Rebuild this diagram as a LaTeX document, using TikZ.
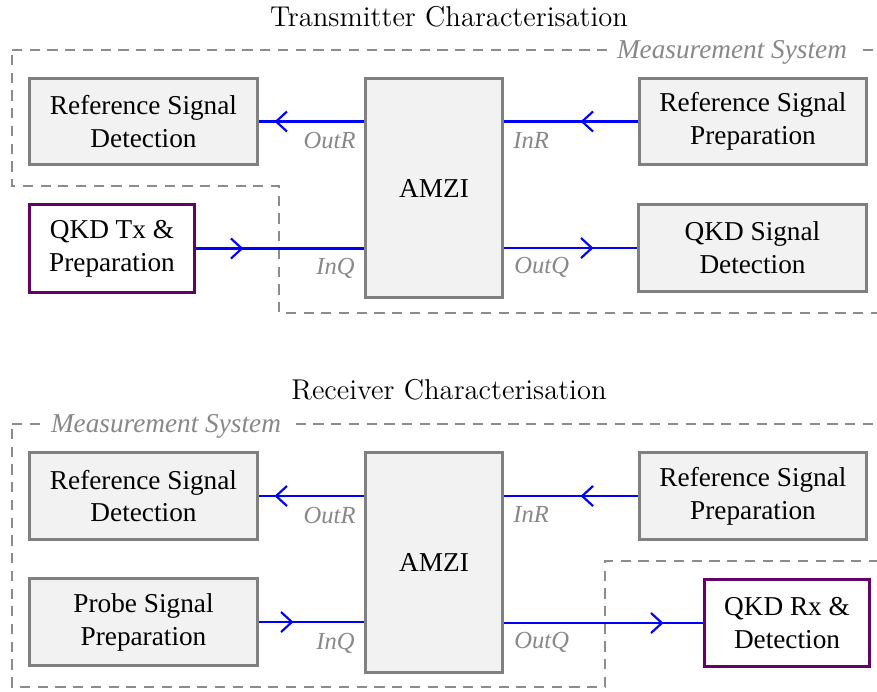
\documentclass[tikz,border=0pt]{standalone}
\usepackage{fontspec}
\newfontfamily\tms{Liberation Serif}
\usetikzlibrary{arrows.meta,decorations.markings}
\definecolor{boxgray}{RGB}{128,128,128}
\definecolor{boxfill}{RGB}{242,242,242}
\definecolor{qkdpurple}{RGB}{102,0,102}
\definecolor{dashgray}{RGB}{140,140,140}
\definecolor{lblgray}{RGB}{136,136,136}
\def\px{0.44pt}
\begin{document}
\begin{tikzpicture}[x=0.44pt,y=-0.44pt,
 box/.style={draw=boxgray, fill=boxfill, line width=1.3pt, align=center,
   font=\tms\fontsize{12}{14.5}\selectfont, inner sep=0pt,
   execute at begin node={\vspace*{2pt}}},
 qkdbox/.style={box, draw=qkdpurple, fill=white},
 sys/.style={draw=dashgray, line width=0.9pt, dash pattern=on 4.5pt off 3.3pt},
 sysname/.style={fill=white, text=lblgray, font=\tms\itshape\fontsize{12}{14.5}\selectfont,
   inner xsep=4pt, inner ysep=1pt, anchor=base},
 port/.style={text=lblgray, font=\tms\itshape\fontsize{10.8}{13}\selectfont, inner sep=0pt},
 title/.style={font=\fontsize{12.6}{15}\selectfont, anchor=base, inner sep=0pt},
 sig/.style={blue, line width=0.95pt, postaction={decorate},
   decoration={markings, mark=at position #1 with {\arrow{Straight Barb[length=4.8pt,width=8.8pt]}}}},
]
\useasboundingbox (0,0) rectangle (877,691);
\clip (0,0) rectangle (877,691);

% ---------- Transmitter ----------
\node[title] (titleT) at (449,26) {Transmitter Characterisation};
\draw[sys] (12,50) -- (900,50) -- (900,313) -- (279,313) -- (279,186) -- (12,186) -- cycle;
\node[sysname] (msT) at (732,58) {Measurement System};

\node[box, minimum width=228*\px, minimum height=86*\px] (refdetT) at (143.5,121.5) {Reference Signal\\Detection};
\node[box, minimum width=137*\px, minimum height=219*\px] (amziT) at (434,188) {AMZI};
\node[box, minimum width=227*\px, minimum height=86*\px] (refprepT) at (753,121.5) {Reference Signal\\Preparation};
\node[qkdbox, minimum width=165*\px, minimum height=88*\px] (qkdtx) at (112,248.5) {QKD Tx \&\\Preparation};
\node[box, minimum width=228*\px, minimum height=87*\px] (qkdsig) at (752.5,248) {QKD Signal\\Detection};

\draw[sig=39.4pt] (amziT.west |- refdetT.east) -- (refdetT.east);
\draw[sig=25.3pt] (refprepT.west) -- (amziT.east |- refprepT.west);
\draw[sig=20.9pt] (qkdtx.east) -- (amziT.west |- qkdtx.east);
\draw[sig=39.4pt] (amziT.east |- qkdsig.west) -- (qkdsig.west);

\node[port, anchor=base east] (outRT) at (356,148) {OutR};
\node[port, anchor=base east] (inQT) at (355,274) {InQ};
\node[port, anchor=base west] (inRT) at (513,148) {InR};
\node[port, anchor=base west] (outQT) at (514,273) {OutQ};

% ---------- Receiver ----------
\node[title] (titleB) at (449,399) {Receiver Characterisation};
\draw[sys] (12,424) -- (900,424) -- (900,561) -- (605,561) -- (605,687) -- (12,687) -- cycle;
\node[sysname] (msB) at (166,432) {Measurement System};

\node[box, minimum width=228*\px, minimum height=87*\px] (refdetB) at (143.5,496) {Reference Signal\\Detection};
\node[box, minimum width=228*\px, minimum height=87*\px] (probe) at (143.5,622) {Probe Signal\\Preparation};
\node[box, minimum width=137*\px, minimum height=220*\px] (amziB) at (434,562.5) {AMZI};
\node[box, minimum width=227*\px, minimum height=87*\px] (refprepB) at (753,496) {Reference Signal\\Preparation};
\node[qkdbox, minimum width=165*\px, minimum height=87*\px] (qkdrx) at (787,623) {QKD Rx \&\\Detection};

\draw[sig=39.4pt] (amziB.west |- refdetB.east) -- (refdetB.east);
\draw[sig=25.3pt] (refprepB.west) -- (amziB.east |- refprepB.west);
\draw[sig=15.2pt] (probe.east) -- (amziB.west |- probe.east);
\draw[sig=70.2pt] (amziB.east |- qkdrx.west) -- (qkdrx.west);

\node[port, anchor=base east] (outRB) at (356,523) {OutR};
\node[port, anchor=base east] (inQB) at (355,649) {InQ};
\node[port, anchor=base west] (inRB) at (513,522) {InR};
\node[port, anchor=base west] (outQB) at (514,648) {OutQ};
\end{tikzpicture}
\end{document}
